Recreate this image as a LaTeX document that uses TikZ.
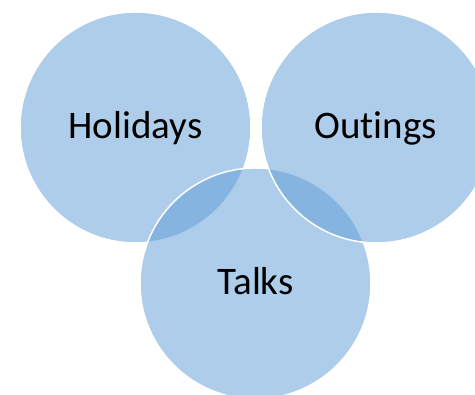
\documentclass[tikz,border=0pt]{standalone}
\usepackage{fontspec}
\setmainfont[Ligatures=NoCommon]{Carlito}
\definecolor{accent}{HTML}{5B9BD5}
\tikzset{
  venn/.style={circle, minimum size=231pt, inner sep=0pt, fill=accent, fill opacity=0.5, draw=white, draw opacity=1, line width=1.5pt},
  lbl/.style={anchor=base, inner sep=0pt, text=black, font=\fontsize{39}{44}\selectfont}
}
\begin{document}
\begin{tikzpicture}[x=1pt,y=1pt]
\useasboundingbox (0,0) rectangle (475,395);
\node[venn] (hol) at (135.5,267.5) {};
\node[venn] (tal) at (255.5,111.5) {};
\node[venn] (out) at (376.5,267.5) {};
\node[lbl] (holt) at (135.5,256) {Holidays};
\node[lbl] (outt) at (375.5,256) {Outings};
\node[lbl] (talt) at (255.5,100) {Talks};
\end{tikzpicture}
\end{document}
